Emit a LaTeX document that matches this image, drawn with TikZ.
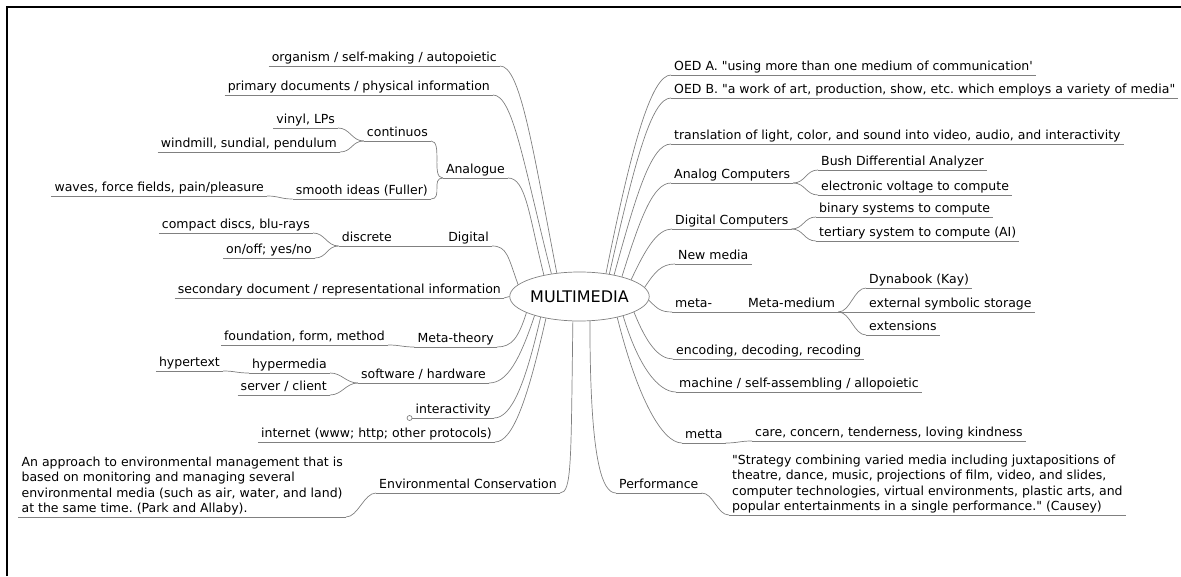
\documentclass[tikz,border=0pt]{standalone}
\usepackage{fontspec}
\setmainfont{DejaVu Sans}
\usetikzlibrary{shapes.geometric}
\frenchspacing

\begin{document}
\begin{tikzpicture}[x=1pt, y=1pt,
  linea/.style={draw=black!50, line width=0.7pt},
  hoja/.style={inner xsep=3pt, inner ysep=1.5pt, text height=9pt, text depth=3pt,
    font=\fontsize{12.5}{15.5}\selectfont},
  bloque/.style={inner xsep=3pt, inner ysep=1.5pt, align=left,
    font=\fontsize{12.5}{15.5}\selectfont},
  izq/.style={hoja, anchor=south east},
  der/.style={hoja, anchor=south west}]

  \useasboundingbox (0,0) rectangle (1181,576);

  % Marco
  \draw[line width=2pt] (7,0) -- (7,569) -- (1181,569);

  % Nodo central
  \node[ellipse, draw=black!50, line width=0.7pt, minimum width=126pt, minimum height=49pt,
    inner sep=0pt, font=\fontsize{16}{19}\selectfont] (mm) at (579.5,279.5) {MULTIMEDIA};

  % Rama izquierda
  \node[izq] (org) at (500,510) {organism / self-making / autopoietic};
  \node[izq] (prim) at (493,481) {primary documents / physical information};
  \node[izq] (analog) at (508,398) {Analogue};
  \node[izq] (cont) at (431,435) {continuos};
  \node[izq] (vinyl) at (338,448) {vinyl, LPs};
  \node[izq] (wind) at (340,424) {windmill, sundial, pendulum};
  \node[izq] (smooth) at (431,377) {smooth ideas (Fuller)};
  \node[izq] (waves) at (267,380) {waves, force fields, pain/pleasure};
  \node[izq] (digital) at (492,330) {Digital};
  \node[izq] (discr) at (395,330) {discrete};
  \node[izq] (compact) at (313,343) {compact discs, blu-rays};
  \node[izq] (onoff) at (315,318) {on/off; yes/no};
  \node[izq] (second) at (504,278) {secondary document / representational information};
  \node[izq] (metath) at (497,229) {Meta-theory};
  \node[izq] (found) at (388,231) {foundation, form, method};
  \node[izq] (softw) at (489,193) {software / hardware};
  \node[izq] (hyperm) at (330,203) {hypermedia};
  \node[izq] (hypert) at (223,205) {hypertext};
  \node[izq] (server) at (330,181) {server / client};
  \node[izq] (inter) at (494,158) {interactivity};
  \node[circle, draw=black!50, line width=0.7pt, inner sep=0pt, minimum size=5pt, anchor=east]
    (idot) at (inter.south west) {};
  \node[izq] (internet) at (495,134) {internet (www; http; other protocols)};
  \node[izq] (envc) at (560,83) {Environmental Conservation};
  \node[bloque, anchor=south east] (para) at (346,59)
    {An approach to environmental management that is\\
     based on monitoring and managing several\\
     environmental media (such as air, water, and land)\\
     at the same time. (Park and Allaby).};

  % Rama derecha
  \node[der] (oeda) at (671,501) {OED A. \textquotedbl using more than one medium of communication\textquotesingle};
  \node[der] (oedb) at (671,478) {OED B. \textquotedbl a work of art, production, show, etc. which employs a variety of media\textquotedbl};
  \node[der] (transl) at (671,432) {translation of light, color, and sound into video, audio, and interactivity};
  \node[der] (analogc) at (671,393) {Analog Computers};
  \node[der] (bush) at (818,406) {Bush Differential Analyzer};
  \node[der] (volt) at (818,381) {electronic voltage to compute};
  \node[der] (digc) at (672,347) {Digital Computers};
  \node[der] (binary) at (816,359) {binary systems to compute};
  \node[der] (tert) at (816,335) {tertiary system to compute (AI)};
  \node[der] (newm) at (675,312) {New media};
  \node[der] (meta) at (672,264) {meta-};
  \node[der] (metam) at (745,264) {Meta-medium};
  \node[der] (dyna) at (866,288) {Dynabook (Kay)};
  \node[der] (ext) at (866,264) {external symbolic storage};
  \node[der] (exts) at (866,241) {extensions};
  \node[der] (enc) at (673,217) {encoding, decoding, recoding};
  \node[der] (mach) at (676,184) {machine / self-assembling / allopoietic};
  \node[der] (metta) at (682,133) {metta};
  \node[der] (care) at (752,135) {care, concern, tenderness, loving kindness};
  \node[der] (perf) at (616,83) {Performance};
  \node[bloque, anchor=south west] (quote) at (729,61)
    {\textquotedbl Strategy combining varied media including juxtapositions of\\
     theatre, dance, music, projections of film, video, and slides,\\
     computer technologies, virtual environments, plastic arts, and\\
     popular entertainments in a single performance.\textquotedbl{} (Causey)};

  % Subrayados
  \foreach \n in {org,prim,analog,cont,vinyl,wind,smooth,waves,digital,discr,compact,onoff,
      second,metath,found,softw,hyperm,hypert,server,inter,internet,envc,para,
      oeda,oedb,transl,analogc,bush,volt,digc,binary,tert,newm,meta,metam,dyna,ext,exts,
      enc,mach,metta,care,perf,quote}
    \draw[linea] (\n.south west) -- (\n.south east);

  % Conexiones al centro (izquierda)
  \draw[linea] (mm.134) .. controls +(-25,130) and +(20,0) .. (org.south east);
  \draw[linea] (mm.141) .. controls +(-28,110) and +(20,0) .. (prim.south east);
  \draw[linea] (mm.149) .. controls +(-15,60) and +(18,0) .. (analog.south east);
  \draw[linea] (mm.169) .. controls +(-10,28) and +(15,0) .. (digital.south east);
  \draw[linea] (mm.west) -- (second.south east);
  \draw[linea] (mm.197) .. controls +(-8,-25) and +(15,0) .. (metath.south east);
  \draw[linea] (mm.203) .. controls +(-15,-45) and +(18,0) .. (softw.south east);
  \draw[linea] (mm.208) .. controls +(-15,-65) and +(18,0) .. (inter.south east);
  \draw[linea] (mm.213) .. controls +(-18,-80) and +(18,0) .. (internet.south east);
  \draw[linea] (mm.255) .. controls +(-2,-140) and +(12,0) .. (envc.south east);

  % Conexiones al centro (derecha)
  \draw[linea] (mm.41) .. controls +(25,125) and +(-20,0) .. (oeda.south west);
  \draw[linea] (mm.37) .. controls +(25,110) and +(-20,0) .. (oedb.south west);
  \draw[linea] (mm.32) .. controls +(22,80) and +(-20,0) .. (transl.south west);
  \draw[linea] (mm.25) .. controls +(18,58) and +(-18,0) .. (analogc.south west);
  \draw[linea] (mm.18) .. controls +(14,30) and +(-15,0) .. (digc.south west);
  \draw[linea] (mm.8) .. controls +(10,15) and +(-14,0) .. (newm.south west);
  \draw[linea] (mm.357) .. controls +(8,-8) and +(-12,0) .. (meta.south west);
  \draw[linea] (mm.344) .. controls +(12,-30) and +(-15,0) .. (enc.south west);
  \draw[linea] (mm.336) .. controls +(15,-50) and +(-18,0) .. (mach.south west);
  \draw[linea] (mm.331) .. controls +(20,-80) and +(-20,0) .. (metta.south west);
  \draw[linea] (mm.293) .. controls +(0,-140) and +(-14,0) .. (perf.south west);

  % Sub-ramas izquierda
  \foreach \a/\b in {cont/analog, smooth/analog, vinyl/cont, wind/cont, waves/smooth,
      compact/discr, onoff/discr, found/metath, hyperm/softw, server/softw,
      hypert/hyperm, para/envc}
    \draw[linea] (\a.south east) .. controls +(12,0) and +(-12,0) .. (\b.south west);
  \draw[linea] (discr.south east) -- (digital.south west);

  % Sub-ramas derecha
  \foreach \a/\b in {analogc/bush, analogc/volt, digc/binary, digc/tert,
      metam/dyna, metam/exts, metta/care, perf/quote}
    \draw[linea] (\a.south east) .. controls +(12,0) and +(-12,0) .. (\b.south west);
  \draw[linea] (meta.south east) -- (metam.south west);
  \draw[linea] (metam.south east) -- (ext.south west);

\end{tikzpicture}
\end{document}
